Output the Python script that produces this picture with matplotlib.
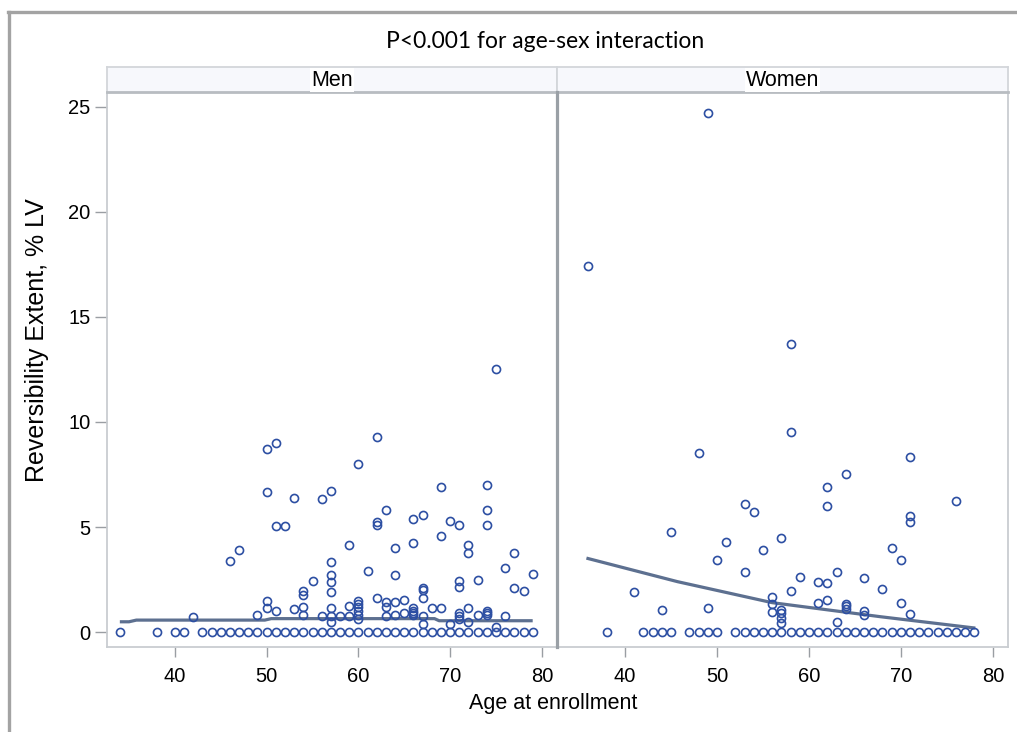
import matplotlib
matplotlib.use('Agg')
import matplotlib.pyplot as plt
from matplotlib.lines import Line2D
import numpy as np

# zero-valued observations (age at enrollment)
men_zero_ages = [34, 38, 40, 41] + list(range(43, 80))
women_zero_ages = [38, 42, 43, 44, 45, 47, 48, 49, 50] + list(range(52, 79))

# non-zero observations: age -> reversibility extent values
men_pts = {
    42: [0.7], 46: [3.4], 47: [3.9], 49: [0.8],
    50: [8.7, 6.65, 1.5, 1.15], 51: [9.0, 5.05, 1.0], 52: [5.05],
    53: [6.4, 1.1], 54: [1.95, 1.75, 1.2, 0.8], 55: [2.45], 56: [6.35, 0.75],
    57: [6.7, 3.35, 2.7, 2.4, 1.9, 1.15, 0.75, 0.5], 58: [0.75],
    59: [4.15, 1.25, 0.75], 60: [8.0, 1.5, 1.35, 1.2, 1.0, 0.8, 0.6],
    61: [2.9], 62: [9.3, 5.25, 5.1, 1.6], 63: [5.8, 1.45, 1.2, 0.75],
    64: [4.0, 2.7, 1.45, 0.8], 65: [1.55, 0.9],
    66: [5.4, 4.25, 1.15, 1.0, 0.9, 0.8], 67: [5.55, 2.1, 2.0, 1.6, 0.75, 0.4],
    68: [1.15], 69: [6.9, 4.55, 1.15], 70: [5.3, 0.4],
    71: [5.1, 2.45, 2.15, 0.9, 0.75, 0.6], 72: [4.15, 3.75, 1.15, 0.5],
    73: [2.5, 0.8], 74: [7.0, 5.8, 5.1, 1.0, 0.9, 0.8], 75: [12.5, 0.25],
    76: [3.05, 0.75], 77: [3.75, 2.1], 78: [1.95], 79: [2.75],
}
women_pts = {
    36: [17.4], 41: [1.9], 44: [1.05], 45: [4.75], 48: [8.5],
    49: [24.7, 1.15], 50: [3.45], 51: [4.3], 53: [6.1, 2.85], 54: [5.7],
    55: [3.9], 56: [1.65, 1.35, 0.95], 57: [4.5, 1.05, 0.9, 0.65, 0.45],
    58: [13.7, 9.5, 1.95], 59: [2.6], 61: [2.4, 1.4],
    62: [6.9, 6.0, 2.35, 1.55], 63: [2.85, 0.5], 64: [7.5, 1.35, 1.25, 1.1],
    66: [2.55, 1.0, 0.8], 68: [2.05], 69: [4.0], 70: [3.45, 1.4],
    71: [8.35, 5.5, 5.25, 0.85], 76: [6.25],
}

# fitted curves
men_fit_x = [34, 35, 35.8, 49.8, 50.5, 68.3, 68.8, 79]
men_fit_y = [0.49, 0.49, 0.57, 0.57, 0.64, 0.64, 0.54, 0.54]
women_fit_x = [35.8, 45.7, 56, 67.8, 78.1]
women_fit_y = [3.52, 2.4, 1.4, 0.73, 0.19]

xticks = [40, 50, 60, 70, 80]
yticks = [0, 5, 10, 15, 20, 25]

plt.rcParams['font.family'] = ['Liberation Sans', 'DejaVu Sans']

W, H = 1017, 732
fig = plt.figure(figsize=(W / 100, H / 100), dpi=100)

def fx(px):
    return px / W

def fy(py):
    return (H - py) / H

marker_col = '#2d4fa3'
line_col = '#5d7090'
spine_col = '#c9cdd1'
tick_col = '#9a9ea3'

panels = [
    ('Men', men_zero_ages, men_pts, men_fit_x, men_fit_y, 107, 557),
    ('Women', women_zero_ages, women_pts, women_fit_x, women_fit_y, 557, 1008),
]

for i, (name, zeros, pts, lx, ly, x0, x1) in enumerate(panels):
    ax = fig.add_axes([fx(x0), fy(647), fx(x1 - x0), (647 - 92) / H])
    xs = list(zeros) + [a for a, vals in pts.items() for v in vals]
    ys = [0] * len(zeros) + [v for a, vals in pts.items() for v in vals]
    ax.plot(lx, ly, color=line_col, lw=2.3, zorder=2, solid_capstyle='butt')
    ax.plot(xs, ys, ls='none', marker='o', ms=5.8, mfc='none',
            mec=marker_col, mew=1.2, zorder=3)
    ax.set_xlim(32.6, 81.65)
    ax.set_ylim(-0.71, 25.7)
    ax.set_xticks(xticks)
    ax.set_yticks(yticks)
    ax.tick_params(axis='x', length=7.2, width=1, color=tick_col, pad=7,
                   labelsize=14.5)
    if i == 0:
        ax.tick_params(axis='y', length=8.5, width=1, color=tick_col, pad=3.5,
                       labelsize=14.5)
    else:
        ax.tick_params(axis='y', left=False, labelleft=False)
    for s in ax.spines.values():
        s.set_color(spine_col)
        s.set_linewidth(1.3)

    # strip header
    st = fig.add_axes([fx(x0), fy(92), fx(x1 - x0), 25 / H])
    st.set_facecolor('#f7f8fc')
    st.set_xticks([])
    st.set_yticks([])
    for s in st.spines.values():
        s.set_color('#d3d6da')
        s.set_linewidth(1.3)
    st.spines['bottom'].set_color('#b8bcc1')
    st.spines['bottom'].set_linewidth(2)
    st.text(0.5, 0.48, name, ha='center', va='center', fontsize=15.5,
            transform=st.transAxes,
            bbox=dict(facecolor='white', edgecolor='none', pad=1.0))

# darker divider between the panels
fig.add_artist(Line2D([fx(557), fx(557)], [fy(647), fy(92)],
                      color='#9aa0a6', lw=2.3))

# outer frame (top and left only)
fig.add_artist(Line2D([fx(8), 1], [fy(11.5), fy(11.5)], color='#a3a3a3', lw=2.4))
fig.add_artist(Line2D([fx(9), fx(9)], [0, fy(11.5)], color='#a3a3a3', lw=2.4))

fig.text(fx(545), fy(42), 'P<0.001 for age-sex interaction', ha='center',
         va='center', fontsize=16.5, family=['Lato', 'DejaVu Sans'])
fig.text(fx(37), fy(340), 'Reversibility Extent, % LV', rotation=90,
         ha='center', va='center', fontsize=18)
fig.text(fx(553), fy(703), 'Age at enrollment', ha='center', va='center',
         fontsize=15.5)

fig.savefig('out.png', dpi=100)
